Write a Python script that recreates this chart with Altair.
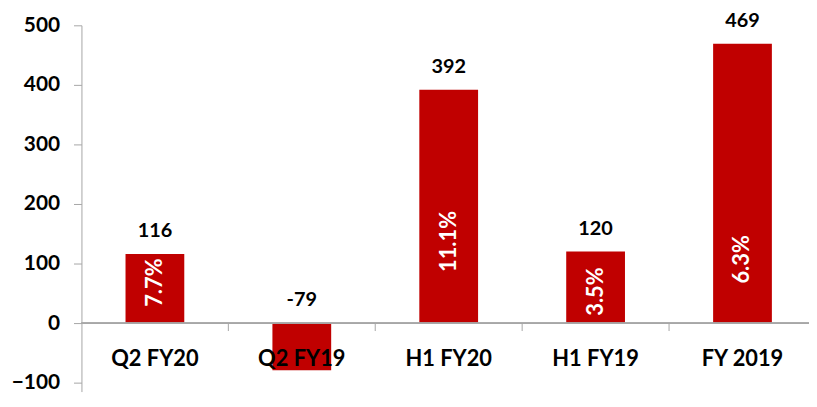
import altair as alt
import pandas as pd

categories = ["Q2 FY20", "Q2 FY19", "H1 FY20", "H1 FY19", "FY 2019"]
values = [116, -79, 392, 120, 469]
pct_labels = ["7.7%", "", "11.1%", "3.5%", "6.3%"]
pct_label_at = [68, 0, 137, 53, 107]

W = 733
H = 369
STEP = 148.0
FONT = "Lato"
RED = "#C00000"
GRAY = "#A6A6A6"

df = pd.DataFrame({
    "cat": categories,
    "value": values,
    "idx": list(range(len(categories))),
    "pct": pct_labels,
    "pct_at": pct_label_at,
})

xmax = W / STEP
xscale = alt.Scale(domain=[0, xmax], nice=False, zero=False)
yscale = alt.Scale(domain=[-115, 500], nice=False, zero=False)

base = alt.Chart(df).transform_calculate(
    xc="datum.idx + 0.5",
    xl="datum.idx + 0.3",
    xr="datum.idx + 0.7",
    xb="datum.idx + 1",
    vtop="max(datum.value, 0)",
    vlabel="'' + datum.value",
)

yaxis = alt.Axis(
    values=[-100, 0, 100, 200, 300, 400, 500],
    grid=False,
    domainColor=GRAY,
    tickColor=GRAY,
    tickSize=8,
    labelFont=FONT,
    labelFontSize=21,
    labelFontWeight="bold",
    labelColor="#000000",
    labelPadding=14,
    title=None,
)

bars = base.mark_bar(color=RED).encode(
    x=alt.X("xl:Q", scale=xscale, axis=None),
    x2="xr:Q",
    y=alt.Y("value:Q", scale=yscale, axis=yaxis),
    y2=alt.Y2(datum=0),
)

zero_rule = base.mark_rule(color=GRAY, strokeWidth=1).encode(
    y=alt.Y(datum=0, scale=yscale),
    x=alt.value(0),
    x2=alt.value(W),
)

btick = base.transform_filter("datum.idx < 4").mark_rule(color=GRAY, strokeWidth=1).encode(
    x=alt.X("xb:Q", scale=xscale),
    y=alt.Y(datum=0, scale=yscale),
    y2=alt.Y2(datum=-8 / 0.6),
)

cat_labels = base.mark_text(
    font=FONT, fontSize=22, fontWeight="bold", color="#000000",
    baseline="top", align="center", dy=26,
).encode(
    x=alt.X("xc:Q", scale=xscale),
    y=alt.Y(datum=0, scale=yscale),
    text="cat:N",
)

val_labels = base.mark_text(
    font=FONT, fontSize=20, fontWeight="bold", color="#000000",
    baseline="alphabetic", align="center", dy=-17,
).encode(
    x=alt.X("xc:Q", scale=xscale),
    y=alt.Y("vtop:Q", scale=yscale),
    text="vlabel:N",
)

pct_text = base.transform_filter("datum.pct != ''").mark_text(
    font=FONT, fontSize=22, fontWeight="bold", color="#FFFFFF",
    baseline="middle", align="center", angle=270,
).encode(
    x=alt.X("xc:Q", scale=xscale),
    y=alt.Y("pct_at:Q", scale=yscale),
    text="pct:N",
)

chart = alt.layer(bars, zero_rule, btick, cat_labels, val_labels, pct_text).properties(
    width=W,
    height=H,
    autosize=alt.AutoSizeParams(type="none"),
    padding={"left": 74, "top": 16, "right": 0, "bottom": 0},
).configure_view(stroke=None)

chart.save("out.html", embed_options={"renderer": "svg", "actions": False})
